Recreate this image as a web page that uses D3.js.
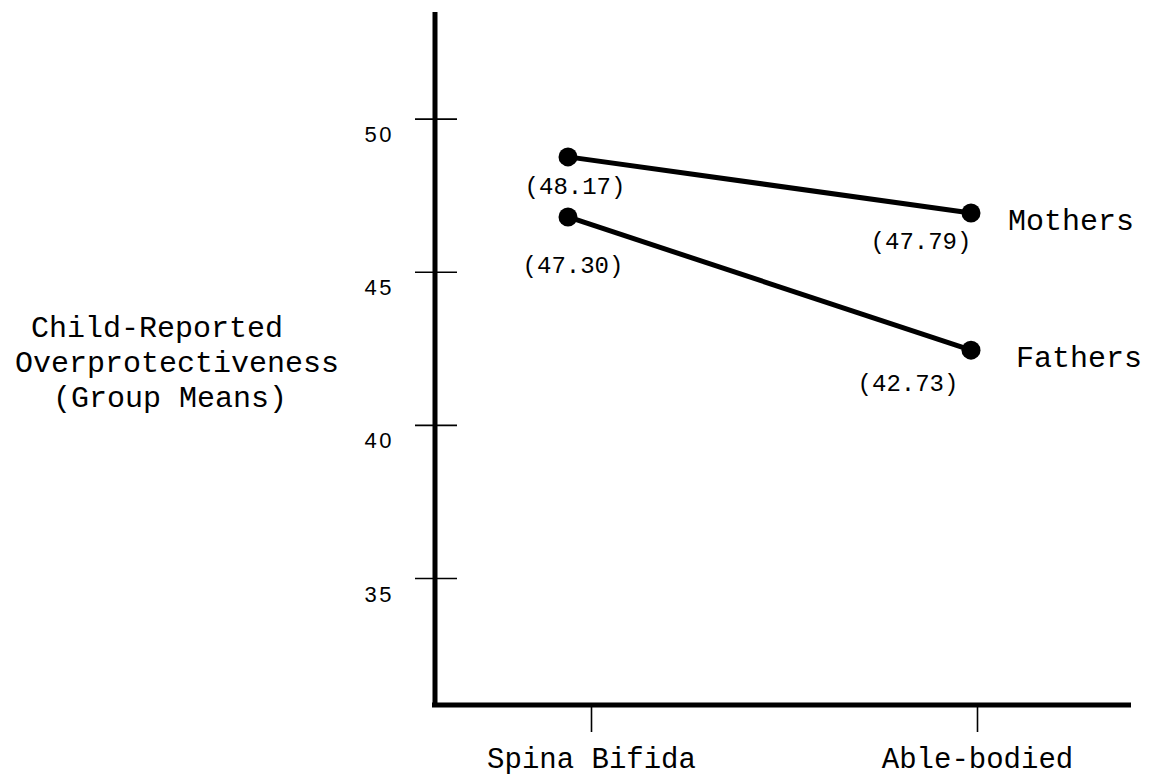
<!DOCTYPE html>
<html>
<head>
<meta charset="utf-8">
<script src="https://cdn.jsdelivr.net/npm/d3@7"></script>
<style>
  html, body { margin: 0; padding: 0; background: #fff; }
  svg { display: block; }
</style>
</head>
<body>
<svg id="chart" width="1155" height="779"></svg>
<script>
// ---- data ----
const categories = ["Spina Bifida", "Able-bodied"];
const seriesNames = ["Mothers", "Fathers"];
// positions of the dots as drawn in the figure
const mothersValues = [48.75, 46.92];
const fathersValues = [46.79, 42.44];
// printed group means next to the dots
const mothersLabels = ["(48.17)", "(47.79)"];
const fathersLabels = ["(47.30)", "(42.73)"];
const yTicks = [35, 40, 45, 50];
const yTitle = ["Child-Reported", "Overprotectiveness", "(Group Means)"];

// ---- layout ----
const svg = d3.select("#chart");
const axisX = 435, axisTop = 12, axisBottom = 705, axisRight = 1131;
const mono = "'Liberation Mono', 'Courier New', monospace";

const y = d3.scaleLinear().domain([35, 50]).range([578, 118.6]);
const x = d3.scalePoint().domain(categories).range([591, 977]);
// dots sit slightly left of the category ticks in the original figure
const dotShift = { "Spina Bifida": -23, "Able-bodied": -6 };

// Y axis line
svg.append("line")
  .attr("x1", axisX).attr("x2", axisX)
  .attr("y1", axisTop).attr("y2", axisBottom + 2)
  .attr("stroke", "#000").attr("stroke-width", 5);
// X axis line
svg.append("line")
  .attr("x1", axisX - 3).attr("x2", axisRight)
  .attr("y1", axisBottom).attr("y2", axisBottom)
  .attr("stroke", "#000").attr("stroke-width", 5);

// Y ticks crossing the axis
const yAxis = d3.axisLeft(y).tickValues(yTicks).tickSize(0).tickFormat(d3.format("d"));
const gy = svg.append("g").attr("transform", `translate(${axisX},0)`).call(yAxis);
gy.select(".domain").remove();
gy.selectAll(".tick line")
  .attr("x1", -20).attr("x2", 22)
  .attr("stroke", "#000").attr("stroke-width", 1.6);
gy.selectAll(".tick text")
  .attr("x", -41).attr("dy", "1.05em")
  .attr("text-anchor", "end")
  .attr("font-family", "'Liberation Sans', Arial, sans-serif")
  .attr("font-size", 22)
  .attr("letter-spacing", 2.5)
  .attr("fill", "#000");

// X ticks below the axis
const xAxis = d3.axisBottom(x).tickSize(0);
const gx = svg.append("g").attr("transform", `translate(0,${axisBottom})`).call(xAxis);
gx.select(".domain").remove();
gx.selectAll(".tick line")
  .attr("y1", 2).attr("y2", 27)
  .attr("stroke", "#000").attr("stroke-width", 1.6);
gx.selectAll(".tick text")
  .attr("y", 63)
  .attr("dy", 0)
  .attr("font-family", mono)
  .attr("font-size", 29)
  .attr("fill", "#000");

// Y title (lines are individually centred as in the original)
const titleCenters = [157, 177, 170];
svg.append("text")
  .attr("font-family", mono).attr("font-size", 30).attr("fill", "#000")
  .attr("text-anchor", "middle")
  .selectAll("tspan").data(yTitle).join("tspan")
  .attr("x", (d, i) => titleCenters[i])
  .attr("y", (d, i) => 337 + i * 35)
  .text(d => d);

// Series
const series = [
  { name: seriesNames[0], values: mothersValues, labels: mothersLabels,
    labelOff: [[7, 37], [-50, 36]], nameOff: [37, 17] },
  { name: seriesNames[1], values: fathersValues, labels: fathersLabels,
    labelOff: [[5, 56], [-63, 41]], nameOff: [45, 17] }
];

const line = d3.line()
  .x((d, i) => x(categories[i]) + dotShift[categories[i]])
  .y(d => y(d));

series.forEach(s => {
  svg.append("path")
    .datum(s.values)
    .attr("d", line)
    .attr("fill", "none").attr("stroke", "#000").attr("stroke-width", 5);

  svg.selectAll(null).data(s.values).join("circle")
    .attr("cx", (d, i) => x(categories[i]) + dotShift[categories[i]])
    .attr("cy", d => y(d))
    .attr("r", 9.5)
    .attr("fill", "#000");

  svg.selectAll(null).data(s.values).join("text")
    .attr("x", (d, i) => x(categories[i]) + dotShift[categories[i]] + s.labelOff[i][0])
    .attr("y", (d, i) => y(d) + s.labelOff[i][1])
    .attr("text-anchor", "middle")
    .attr("font-family", mono).attr("font-size", 24).attr("fill", "#000")
    .text((d, i) => s.labels[i]);

  const last = s.values.length - 1;
  svg.append("text")
    .attr("x", x(categories[last]) + dotShift[categories[last]] + s.nameOff[0])
    .attr("y", y(s.values[last]) + s.nameOff[1])
    .attr("font-family", mono).attr("font-size", 30).attr("fill", "#000")
    .text(s.name);
});
</script>
</body>
</html>
